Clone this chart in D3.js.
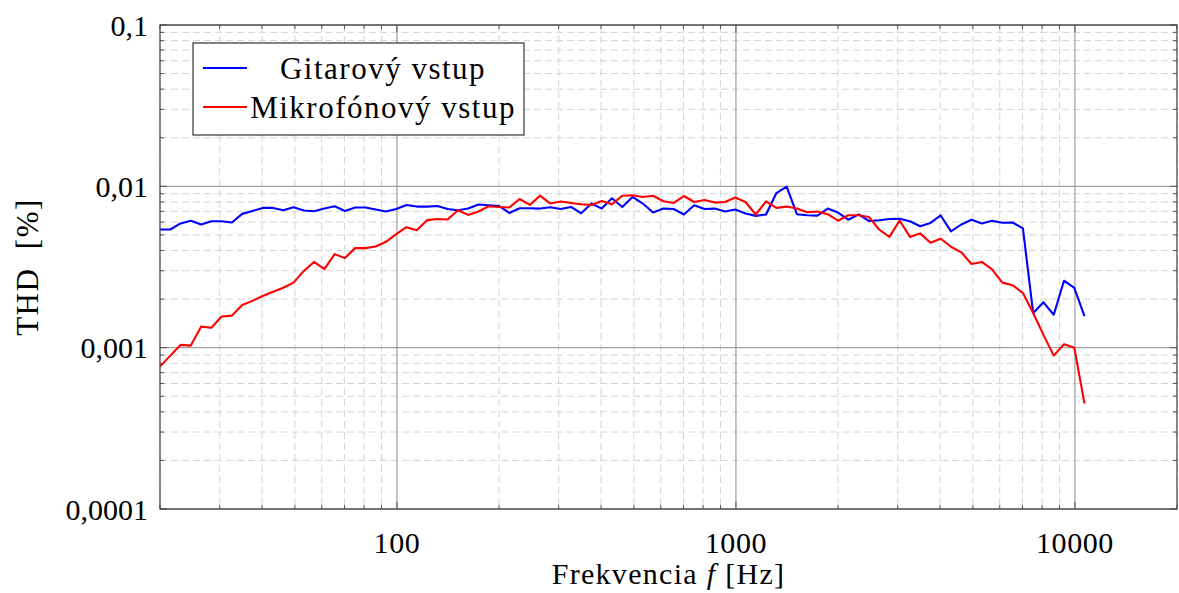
<!DOCTYPE html>
<html>
<head>
<meta charset="utf-8">
<script src="https://cdn.jsdelivr.net/npm/d3@7"></script>
<style>
  body { margin: 0; background: #fff; }
</style>
</head>
<body>
<svg width="1179" height="593" font-family="'Liberation Serif', 'DejaVu Serif', serif"></svg>
<script>
// frequency points [Hz]
var freq = [20, 21.45, 23.0, 24.66, 26.44, 28.35, 30.40, 32.60, 34.95, 37.48, 40.18, 43.09, 46.20, 49.54,
  53.12, 56.96, 61.08, 65.49, 70.22, 75.30, 80.74, 86.58, 92.83, 99.54, 106.7, 114.4, 122.7, 131.6,
  141.1, 151.3, 162.2, 173.9, 186.5, 200, 214.5, 230.0, 246.6, 264.4, 283.5, 304.0, 326.0, 349.5,
  374.8, 401.8, 430.9, 462.0, 495.4, 531.2, 569.6, 610.8, 654.9, 702.2, 753.0, 807.4, 865.8, 928.3,
  995.4, 1067, 1144, 1227, 1316, 1411, 1513, 1622, 1739, 1865, 2000, 2145, 2300, 2466, 2644, 2835,
  3040, 3260, 3495, 3748, 4018, 4309, 4620, 4954, 5312, 5696, 6108, 6549, 7022, 7530, 8074, 8658,
  9283, 9954, 10670];

// THD [%] - guitar input
var gitara = [
  0.00540, 0.00540, 0.00589, 0.00611, 0.00580, 0.00608, 0.00608, 0.00597, 0.00675, 0.00704,
  0.00735, 0.00735, 0.00711, 0.00742, 0.00708, 0.00701, 0.00728, 0.00753, 0.00704, 0.00739,
  0.00739, 0.00718, 0.00698, 0.00724, 0.00767, 0.00749, 0.00749, 0.00756, 0.00724, 0.00711,
  0.00728, 0.00771, 0.00763, 0.00756, 0.00684, 0.00732, 0.00732, 0.00728, 0.00742, 0.00724,
  0.00745, 0.00681, 0.00782, 0.00728, 0.00843, 0.00745, 0.00859, 0.00782, 0.00689, 0.00728,
  0.00724, 0.00669, 0.00763, 0.00724, 0.00728, 0.00698, 0.00718, 0.00679, 0.00656, 0.00669,
  0.00909, 0.00996, 0.00672, 0.00662, 0.00658, 0.00728, 0.00688, 0.00621, 0.00670, 0.00610,
  0.00616, 0.00627, 0.00630, 0.00608, 0.00566, 0.00593, 0.00660, 0.00526, 0.00580, 0.00621,
  0.00589, 0.00611, 0.00595, 0.00597, 0.00549, 0.00164, 0.00191, 0.00160, 0.00260, 0.00235,
  0.00157];

// THD [%] - microphone input
var mikrofon = [
  0.000763, 0.000893, 0.00104, 0.00103, 0.00135, 0.00133, 0.00156, 0.00158, 0.00184, 0.00195,
  0.00209, 0.00222, 0.00235, 0.00253, 0.00299, 0.00340, 0.00307, 0.00380, 0.00359, 0.00414,
  0.00414, 0.00424, 0.00453, 0.00505, 0.00558, 0.00535, 0.00617, 0.00628, 0.00623, 0.00711,
  0.00665, 0.00698, 0.00753, 0.00745, 0.00739, 0.00835, 0.00767, 0.00876, 0.00782, 0.00805,
  0.00789, 0.00774, 0.00767, 0.00811, 0.00774, 0.00874, 0.00880, 0.00859, 0.00874, 0.00808,
  0.00789, 0.00871, 0.00800, 0.00823, 0.00793, 0.00800, 0.00852, 0.00800, 0.00669, 0.00808,
  0.00735, 0.00749, 0.00728, 0.00691, 0.00698, 0.00672, 0.00612, 0.00662, 0.00662, 0.00646,
  0.00540, 0.00486, 0.00614, 0.00486, 0.00511, 0.00447, 0.00473, 0.00422, 0.00390, 0.00330,
  0.00340, 0.00306, 0.00253, 0.00244, 0.00218, 0.00164, 0.00120, 0.000893, 0.00105, 0.00100,
  0.000451];

var xTicks = [100, 1000, 10000],
    xTickLabels = ["100", "1000", "10000"],
    yTicks = [0.1, 0.01, 0.001, 0.0001],
    yTickLabels = ["0,1", "0,01", "0,001", "0,0001"];

var seriesNames = ["Gitarový vstup", "Mikrofónový vstup"],
    seriesColors = ["#0000ff", "#ff0000"];

var svg = d3.select("svg"),
    margin = {top: 25, right: 2, bottom: 84, left: 160},
    width = +svg.attr("width") - margin.left - margin.right,
    height = +svg.attr("height") - margin.top - margin.bottom;

var x = d3.scaleLog().domain([20, 20000]).range([0, width]),
    y = d3.scaleLog().domain([0.0001, 0.1]).range([height, 0]);

var g = svg.append("g")
    .attr("transform", "translate(" + margin.left + "," + margin.top + ")");

// minor values
var xMinor = [], yMinor = [];
[10, 100, 1000, 10000].forEach(function(d) {
  for (var k = 2; k <= 9; k++) if (d * k >= 20 && d * k <= 20000) xMinor.push(d * k);
});
[0.0001, 0.001, 0.01].forEach(function(d) {
  for (var k = 2; k <= 9; k++) yMinor.push(d * k);
});

// minor grid
g.append("g").selectAll("line").data(xMinor).enter().append("line")
    .attr("x1", function(d) { return x(d); }).attr("x2", function(d) { return x(d); })
    .attr("y1", 0).attr("y2", height)
    .attr("stroke", "#d4d4d4").attr("stroke-dasharray", "7,4");
g.append("g").selectAll("line").data(yMinor).enter().append("line")
    .attr("y1", function(d) { return y(d); }).attr("y2", function(d) { return y(d); })
    .attr("x1", 0).attr("x2", width)
    .attr("stroke", "#d4d4d4").attr("stroke-dasharray", "7,4");

// major grid
g.append("g").selectAll("line").data(xTicks).enter().append("line")
    .attr("x1", function(d) { return x(d); }).attr("x2", function(d) { return x(d); })
    .attr("y1", 0).attr("y2", height)
    .attr("stroke", "#8c8c8c");
g.append("g").selectAll("line").data(yTicks).enter().append("line")
    .attr("y1", function(d) { return y(d); }).attr("y2", function(d) { return y(d); })
    .attr("x1", 0).attr("x2", width)
    .attr("stroke", "#8c8c8c");

// ticks on all four sides, pointing inwards
var tickCol = "#555";
function xt(vals, len) {
  [0, height].forEach(function(base) {
    var dir = base === 0 ? 1 : -1;
    g.append("g").selectAll("line").data(vals).enter().append("line")
        .attr("x1", function(d) { return x(d); }).attr("x2", function(d) { return x(d); })
        .attr("y1", base).attr("y2", base + dir * len)
        .attr("stroke", tickCol);
  });
}
function yt(vals, len) {
  [0, width].forEach(function(base) {
    var dir = base === 0 ? 1 : -1;
    g.append("g").selectAll("line").data(vals).enter().append("line")
        .attr("y1", function(d) { return y(d); }).attr("y2", function(d) { return y(d); })
        .attr("x1", base).attr("x2", base + dir * len)
        .attr("stroke", tickCol);
  });
}
xt(xMinor, 4); xt(xTicks, 7);
yt(yMinor, 4); yt(yTicks, 7);

// tick labels
g.append("g").selectAll("text").data(xTicks).enter().append("text")
    .attr("x", function(d) { return x(d); })
    .attr("y", height + 44)
    .attr("text-anchor", "middle")
    .attr("font-size", 30)
    .attr("letter-spacing", 0.6)
    .text(function(d, i) { return xTickLabels[i]; });
g.append("g").selectAll("text").data(yTicks).enter().append("text")
    .attr("x", -12)
    .attr("y", function(d) { return y(d) + 10.5; })
    .attr("text-anchor", "end")
    .attr("font-size", 30)
    .text(function(d, i) { return yTickLabels[i]; });

// axis titles
var xt1 = g.append("text")
    .attr("x", width / 2)
    .attr("y", height + 75)
    .attr("text-anchor", "middle")
    .attr("font-size", 30)
    .attr("letter-spacing", 1.3);
xt1.append("tspan").text("Frekvencia ");
xt1.append("tspan").attr("font-style", "italic").text("f");
xt1.append("tspan").text("\u00a0[Hz]");

g.append("text")
    .attr("transform", "translate(" + (38 - margin.left) + "," + (height / 2) + ") rotate(-90)")
    .attr("text-anchor", "middle")
    .attr("font-size", 31)
    .attr("letter-spacing", 1.5)
    .text("THD\u00a0\u00a0[%]");

// data lines
var line = d3.line()
    .x(function(d) { return x(d[0]); })
    .y(function(d) { return y(d[1]); });

[gitara, mikrofon].forEach(function(vals, k) {
  g.append("path")
      .datum(freq.map(function(f, i) { return [f, vals[i]]; }))
      .attr("fill", "none")
      .attr("stroke", seriesColors[k])
      .attr("stroke-width", 2.1)
      .attr("stroke-linejoin", "round")
      .attr("d", line);
});

// frame
g.append("rect")
    .attr("width", width).attr("height", height)
    .attr("fill", "none").attr("stroke", "#404040").attr("stroke-width", 1.2);

// legend
var lg = g.append("g").attr("transform", "translate(" + (193 - margin.left) + "," + (43 - margin.top) + ")");
lg.append("rect")
    .attr("width", 331).attr("height", 92)
    .attr("fill", "#fff").attr("stroke", "#333").attr("stroke-width", 1.2);
seriesNames.forEach(function(name, k) {
  var yy = 25 + k * 39;
  lg.append("line")
      .attr("x1", 10).attr("x2", 54).attr("y1", yy).attr("y2", yy)
      .attr("stroke", seriesColors[k]).attr("stroke-width", 2.1);
  lg.append("text")
      .attr("x", 190).attr("y", yy + 10.5)
      .attr("text-anchor", "middle")
      .attr("font-size", 31)
      .attr("letter-spacing", 1.5)
      .text(name);
});
</script>
</body>
</html>
